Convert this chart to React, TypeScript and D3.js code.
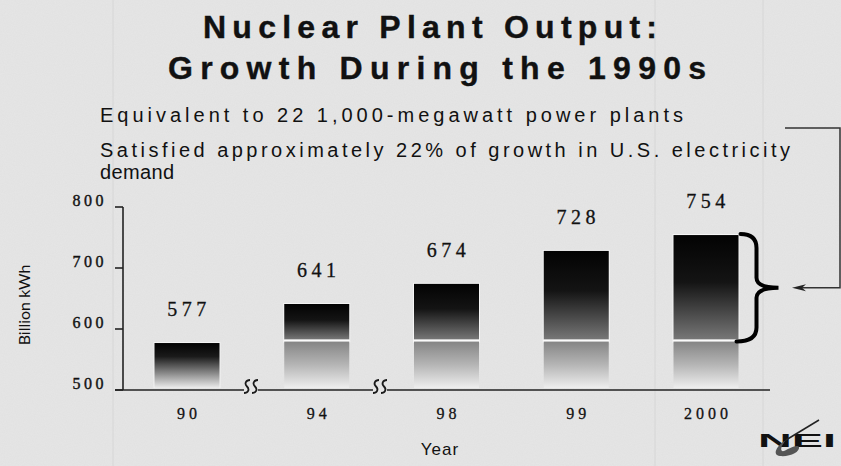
import React from "react";
import * as d3 from "d3";

const years = ["90", "94", "98", "99", "2000"];
const values = [577, 641, 674, 728, 754];
const yTicks = [500, 600, 700, 800];
const splitValue = 581;
const titleLines = ["Nuclear Plant Output:", "Growth During the 1990s"];
const subtitleLines = [
  "Equivalent to 22  1,000-megawatt power plants",
  "Satisfied approximately 22% of growth in U.S. electricity",
  "demand",
];

const W = 841;
const H = 466;

export default function App() {
  const x = d3.scalePoint<string>().domain(years).range([187, 706]);
  const y = d3.scaleLinear().domain([500, 800]).range([390, 207]);
  const bw = 65;
  const serif = "'Liberation Serif', 'DejaVu Serif', serif";
  const sans = "'Liberation Sans', Arial, sans-serif";
  const splitY = y(splitValue);
  const arrowY = (y(values[4]) + splitY) / 2;

  const brace = (() => {
    const top = y(values[4]) - 1;
    const bot = splitY + 1;
    const mid = arrowY;
    const x0 = (x(years[4]) as number) + bw / 2 - 2;
    const xv = x0 + 20;
    const xp = x0 + 42;
    return `M${x0 + 4},${top} Q${xv},${top} ${xv},${top + 14} L${xv},${mid - 10} Q${xv},${mid} ${xp},${mid} Q${xv},${mid} ${xv},${mid + 10} L${xv},${bot - 14} Q${xv},${bot} ${x0},${bot}`;
  })();

  const squiggle = (cx: number) => {
    const t = 380;
    const b = 393;
    const m = (t + b) / 2;
    const s = (ox: number) =>
      `M${ox + 3},${t} C${ox - 1},${t} ${ox - 3},${m - 3} ${ox},${m} C${ox + 3},${m + 3} ${ox + 1},${b} ${ox - 3},${b}`;
    return s(cx - 4) + " " + s(cx + 4);
  };

  return (
    <div style={{ position: "fixed", left: 0, top: 0, width: W, height: H }}>
      <svg width={W} height={H} viewBox={`0 0 ${W} ${H}`} style={{ display: "block" }}>
        <defs>
          <linearGradient id="upper" x1="0" y1="0" x2="0" y2="1">
            <stop offset="0" stopColor="#030303" />
            <stop offset="0.45" stopColor="#141414" />
            <stop offset="1" stopColor="#777" />
          </linearGradient>
          <linearGradient id="lower" x1="0" y1="0" x2="0" y2="1">
            <stop offset="0" stopColor="#858585" />
            <stop offset="0.5" stopColor="#b5b5b5" />
            <stop offset="1" stopColor="#eeeeee" />
          </linearGradient>
          <linearGradient id="single" x1="0" y1="0" x2="0" y2="1">
            <stop offset="0" stopColor="#020202" />
            <stop offset="0.3" stopColor="#1a1a1a" />
            <stop offset="1" stopColor="#ececec" />
          </linearGradient>
          <filter id="noise" x="0" y="0" width="100%" height="100%">
            <feTurbulence type="fractalNoise" baseFrequency="0.9" numOctaves="2" seed="3" result="t" />
            <feColorMatrix type="matrix" values="0 0 0 0 0.5  0 0 0 0 0.5  0 0 0 0 0.5  0 0 0 0.12 0" />
          </filter>
        </defs>

        <rect x={0} y={0} width={W} height={H} fill="#e6e6e6" />
        <rect x={0} y={0} width={W} height={H} filter="url(#noise)" />
        {[113, 655, 763].map((lx) => (
          <line key={lx} x1={lx} x2={lx} y1={0} y2={H} stroke="#d6d6d6" strokeWidth={1} />
        ))}

        {/* Title */}
        {titleLines.map((t, i) => (
          <text
            key={t}
            x={i === 0 ? 203 : 168}
            y={i === 0 ? 38 : 79}
            textLength={i === 0 ? 454 : 538}
            lengthAdjust="spacing"
            fontFamily={sans}
            fontWeight="bold"
            fontSize={32}
            stroke="#111"
            strokeWidth={0.4}
            fill="#111"
          >
            {t}
          </text>
        ))}

        {/* Subtitles */}
        {subtitleLines.map((t, i) => (
          <text
            key={t}
            x={100}
            y={[122, 157, 179][i]}
            textLength={[583, 690, 74][i]}
            lengthAdjust="spacing"
            fontFamily={sans}
            fontSize={20}
            fill="#111"
          >
            {t}
          </text>
        ))}

        {/* Bars */}
        {years.map((yr, i) => {
          const cx = x(yr) as number;
          const v = values[i];
          const top = y(v);
          const x0 = cx - bw / 2;
          if (v <= splitValue) {
            return (
              <g key={yr}>
                <rect x={x0 - 1} y={top - 1} width={bw + 2} height={388 - top + 1} fill="#fafafa" opacity={0.7} />
                <rect x={x0} y={top} width={bw} height={388 - top} fill="url(#single)" />
              </g>
            );
          }
          return (
            <g key={yr}>
              <rect x={x0 - 1} y={top - 1} width={bw + 2} height={splitY - top + 3} fill="#fafafa" opacity={0.8} />
              <rect x={x0} y={top} width={bw} height={splitY - top - 1} fill="url(#upper)" />
              <rect x={x0} y={splitY - 1} width={bw} height={2} fill="#fbfbfb" />
              <rect x={x0} y={splitY + 1} width={bw} height={388 - splitY - 1} fill="url(#lower)" />
            </g>
          );
        })}

        {/* Value labels */}
        {years.map((yr, i) => (
          <text
            key={yr}
            x={(x(yr) as number) + 2}
            y={y(values[i]) - 27}
            textAnchor="middle"
            fontFamily={serif}
            fontSize={20}
            letterSpacing={4.5}
            stroke="#111"
            strokeWidth={0.3}
            fill="#111"
          >
            {values[i]}
          </text>
        ))}

        {/* Y axis */}
        <line x1={123} x2={123} y1={y(800)} y2={390} stroke="#222" strokeWidth={1.6} />
        {yTicks.map((t) => (
          <g key={t}>
            <line x1={115} x2={123} y1={y(t)} y2={y(t)} stroke="#222" strokeWidth={1.6} />
            <text
              x={107}
              y={y(t) - 1}
              textAnchor="end"
              fontFamily={serif}
              fontSize={16}
              letterSpacing={3.5}
              stroke="#111"
              strokeWidth={0.4}
              fill="#111"
            >
              {t}
            </text>
          </g>
        ))}
        <text
          transform="translate(30,305) rotate(-90)"
          textAnchor="middle"
          fontFamily="'Lato', 'Open Sans', sans-serif"
          fontSize={16}
          fill="#111"
        >
          Billion kWh
        </text>

        {/* X axis */}
        <line x1={115} x2={770} y1={390} y2={390} stroke="#222" strokeWidth={1.6} />
        {[251, 380].map((sx) => (
          <g key={sx}>
            <rect x={sx - 7} y={387} width={14} height={6} fill="#e6e6e6" />
            <path d={squiggle(sx)} fill="none" stroke="#1a1a1a" strokeWidth={1.8} />
          </g>
        ))}
        {years.map((yr) => (
          <text
            key={yr}
            x={(x(yr) as number) + 2}
            y={419}
            textAnchor="middle"
            fontFamily={serif}
            fontSize={16}
            letterSpacing={4}
            stroke="#111"
            strokeWidth={0.3}
            fill="#111"
          >
            {yr}
          </text>
        ))}
        <text x={440} y={455} textAnchor="middle" fontFamily={sans} fontSize={17} letterSpacing={1} fill="#111">
          Year
        </text>

        {/* Brace and connector arrow */}
        <path d={brace} fill="none" stroke="#000" strokeWidth={4} strokeLinecap="round" />
        <path
          d={`M785,128 L840,128 L840,${arrowY} L800,${arrowY}`}
          fill="none"
          stroke="#333"
          strokeWidth={1.5}
        />
        <path d={`M792,${arrowY} L806,${arrowY - 3.5} L802,${arrowY} L806,${arrowY + 3.5} Z`} fill="#222" />

        {/* NEI logo */}
        <text x={758} y={447} textLength={78} lengthAdjust="spacingAndGlyphs" fontFamily={sans} fontWeight="bold" fontSize={19} fill="#111">
          NEI
        </text>
        <path d="M819,420 L786,440" stroke="#222" strokeWidth={1.5} fill="none" />
        <path d="M786,440 C776,446 772,455 780,456 C790,457 800,452 799,447 C797,444 790,448 784,451 C780,452 780,447 786,440 Z" fill="#555" />
      </svg>
    </div>
  );
}
